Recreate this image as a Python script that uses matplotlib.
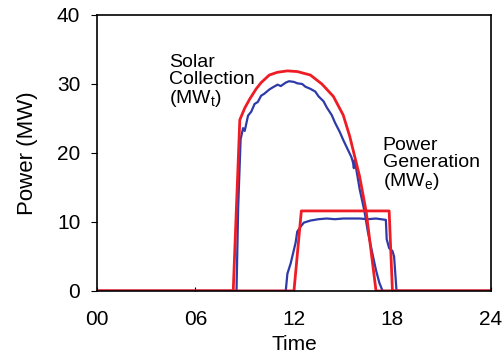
import numpy as np
import matplotlib.pyplot as plt

# hours, MW
solar_model_t = [0, 8.3, 8.7, 9.0, 9.3, 9.7, 10.0, 10.5, 11.0, 11.6, 12.2, 13.0, 13.7, 14.4, 15.0, 15.4, 16.0, 16.4, 17.0, 24]
solar_model_p = [0, 0, 24.8, 26.5, 27.8, 29.3, 30.2, 31.3, 31.7, 31.9, 31.8, 31.3, 30.0, 28.2, 25.5, 22.4, 16.6, 11.5, 0, 0]

solar_meas_t = [0, 8.5, 8.6, 8.75, 8.9, 9.0, 9.2, 9.4, 9.6, 9.8, 10.0, 10.2, 10.5, 10.7, 11.0, 11.2, 11.5, 11.7, 12.0,
                12.2, 12.5, 12.7, 13.0, 13.3, 13.5, 13.8, 14.0, 14.3, 14.5, 14.8, 15.0, 15.3, 15.5, 15.6, 15.65,
                15.7, 16.0, 16.3, 16.5, 16.8, 17.0, 17.2, 17.4, 24]
solar_meas_p = [0, 0, 12.0, 22.0, 23.6, 23.2, 25.4, 26.0, 27.1, 27.4, 28.3, 28.6, 29.2, 29.5, 29.9, 29.7, 30.2, 30.4, 30.3,
                30.1, 30.0, 29.6, 29.3, 28.9, 28.2, 27.5, 26.6, 25.5, 24.4, 23.0, 21.9, 20.4, 19.4, 18.6, 17.8,
                19.0, 14.8, 11.5, 8.6, 5.2, 3.0, 1.2, 0, 0]

power_model_t = [0, 12.0, 12.45, 17.8, 18.0, 24]
power_model_p = [0, 0, 11.6, 11.6, 0, 0]

power_meas_t = [0, 11.5, 11.6, 11.8, 11.9, 12.1, 12.2, 12.4, 12.6, 13.0, 13.5, 14.0, 14.5, 15.0, 15.5, 16.0, 16.5, 17.0,
                17.3, 17.6, 17.65, 17.8, 18.0, 18.1, 18.25, 24]
power_meas_p = [0, 0, 2.5, 4.0, 5.0, 7.0, 8.6, 9.3, 9.9, 10.2, 10.4, 10.5, 10.4, 10.5, 10.5, 10.5, 10.4, 10.5,
                10.4, 10.3, 7.5, 6.2, 5.8, 5.0, 0, 0]

ticks = [0, 6, 12, 18, 24]
tick_labels = ['00', '06', '12', '18', '24']

plt.rcParams['font.family'] = ['Liberation Sans', 'DejaVu Sans']

fig = plt.figure(figsize=(5.04, 3.57), dpi=100)
ax = fig.add_axes([0.1925, 0.185, 0.7815, 0.773])

blue = '#2e3aa8'
red = '#ee1c25'
ax.plot(solar_meas_t, solar_meas_p, color=blue, lw=1.6)
ax.plot(power_meas_t, power_meas_p, color=blue, lw=1.6)
ax.plot(solar_model_t, solar_model_p, color=red, lw=2.0)
ax.plot(power_model_t, power_model_p, color=red, lw=2.0)

ax.set_xlim(0, 24)
ax.set_ylim(0, 40)
ax.set_xticks(ticks)
ax.set_xticklabels(tick_labels)
ax.set_yticks([0, 10, 20, 30, 40])
ax.tick_params(axis='x', labelsize=15, length=3, direction='in', pad=14)
ax.tick_params(axis='y', labelsize=15, length=4, direction='out', pad=8)
for s in ax.spines.values():
    s.set_linewidth(1.2)
ax.set_xlabel('Time', fontsize=15, labelpad=4)
ax.set_ylabel('Power (MW)', fontsize=16, labelpad=14)

ax.text(4.4, 34.4, 'Solar\nCollection\n(MW$_\\mathregular{t}$)', fontsize=14, va='top', ha='left', linespacing=1.0)
ax.text(17.4, 22.3, 'Power\nGeneration\n(MW$_\\mathregular{e}$)', fontsize=14, va='top', ha='left', linespacing=1.0)

fig.savefig('out.png', dpi=100)
